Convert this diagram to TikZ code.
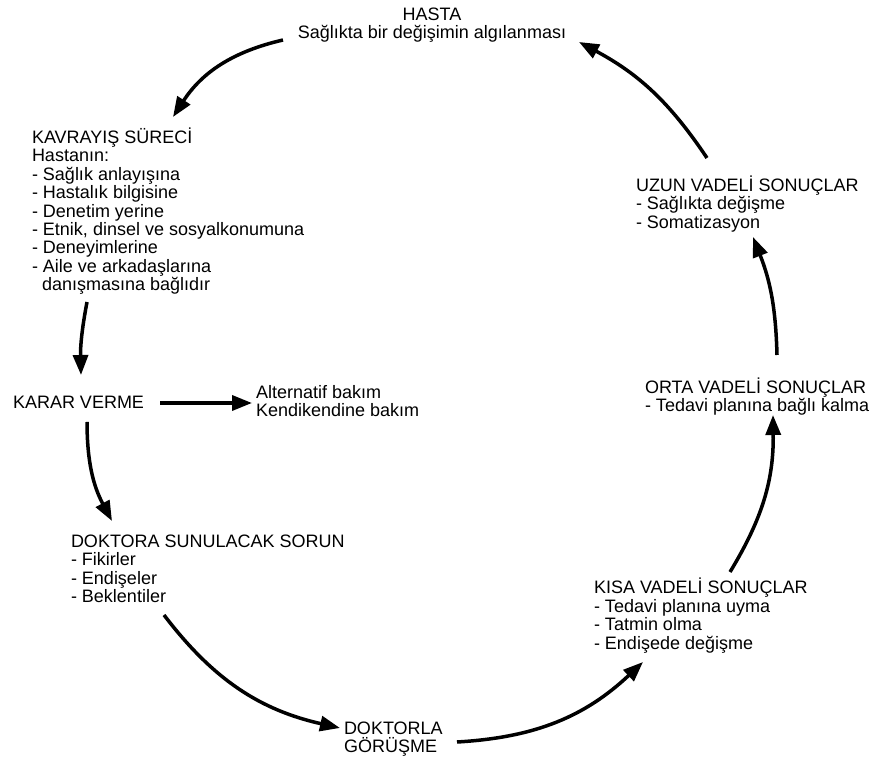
\documentclass[tikz,border=0pt]{standalone}
\usepackage{fontspec}
\setmainfont{Liberation Sans}
\usetikzlibrary{arrows.meta}
\tikzset{
  lbl/.style={inner sep=0pt, outer sep=0pt, align=left, anchor=north west,
    font=\fontsize{18pt}{18.4pt}\selectfont},
  arr/.style={line width=3.5pt, -{Triangle[length=20pt,width=15pt]}},
}
\newcommand{\firstln}{\rule{0pt}{17pt}}
\begin{document}
\lineskiplimit=-100pt\relax
\lineskip=0pt\relax
\begin{tikzpicture}[x=1pt,y=1pt]
\useasboundingbox (0,0) rectangle (879,760);
% text blocks
\node[lbl, align=center, anchor=north] (hasta) at (432,756.5) {\firstln HASTA\\Sağlıkta bir değişimin algılanması};
\node[lbl] (kavr) at (32,633.5) {\firstln KAVRAYIŞ SÜRECİ\\Hastanın:\\- Sağlık anlayışına\\- Hastalık bilgisine\\- Denetim yerine\\- Etnik, dinsel ve sosyalkonumuna\\- Deneyimlerine\\- Aile ve arkadaşlarına\\\hspace*{10pt}danışmasına bağlıdır};
\node[lbl] (karar) at (13,368.5) {\firstln KARAR VERME};
\node[lbl] (alt) at (256,378.5) {\firstln Alternatif bakım\\Kendikendine bakım};
\node[lbl] (sorun) at (71,229.5) {\firstln DOKTORA SUNULACAK SORUN\\- Fikirler\\- Endişeler\\- Beklentiler};
\node[lbl] (gorusme) at (344,42.5) {\firstln DOKTORLA\\GÖRÜŞME};
\node[lbl] (kisa) at (594,183) {\firstln KISA VADELİ SONUÇLAR\\- Tedavi planına uyma\\- Tatmin olma\\- Endişede değişme};
\node[lbl] (orta) at (645,383.5) {\firstln ORTA VADELİ SONUÇLAR\\- Tedavi planına bağlı kalma};
\node[lbl] (uzun) at (636,585.5) {\firstln UZUN VADELİ SONUÇLAR\\- Sağlıkta değişme\\- Somatizasyon};
% arrow end points
\coordinate (a1s) at (283,720); \coordinate (a1e) at (173,643);
\coordinate (a2s) at (87,458);  \coordinate (a2e) at (81,385);
\coordinate (a3s) at (87,338);  \coordinate (a3e) at (112,239);
\coordinate (a4s) at (164,145); \coordinate (a4e) at (340,32);
\coordinate (a5s) at (457,18);  \coordinate (a5e) at (643,98);
\coordinate (a6s) at (730,188); \coordinate (a6e) at (773,345);
\coordinate (a7s) at (777,405); \coordinate (a7e) at (753,523);
\coordinate (a8s) at (707,602); \coordinate (a8e) at (579,718);
\coordinate (hs) at (160,357);  \coordinate (he) at (252,357);
% arrows
\draw[arr] (a1s) to[bend right=22] (a1e);
\draw[arr] (a2s) to[bend right=6] (a2e);
\draw[arr] (a3s) to[bend right=14] (a3e);
\draw[arr] (a4s) to[bend right=20] (a4e);
\draw[arr] (a5s) to[bend right=20] (a5e);
\draw[arr] (a6s) to[bend right=16] (a6e);
\draw[arr] (a7s) to[bend right=10] (a7e);
\draw[arr] (a8s) to[bend right=14] (a8e);
\draw[arr] (hs) -- (he);
\end{tikzpicture}
\end{document}
